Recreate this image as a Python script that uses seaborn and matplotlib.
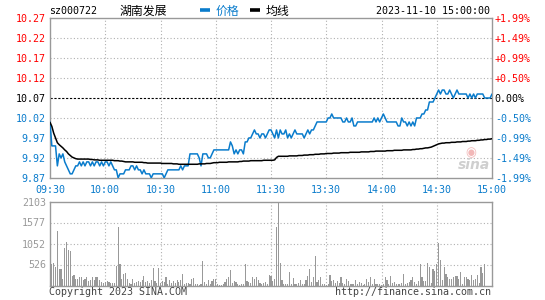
import numpy as np
import matplotlib
matplotlib.use("Agg")
import matplotlib.pyplot as plt
import seaborn as sns
from matplotlib.lines import Line2D

# ---------------- data ----------------
symbol = "sz000722"
name = "湖南发展"
timestamp = "2023-11-10 15:00:00"
legend_price = "价格"
legend_avg = "均线"
footer_left = "Copyright 2023 SINA.COM"
footer_right = "http://finance.sina.com.cn"
prev_close = 10.07
time_labels = ["09:30", "10:00", "10:30", "11:00", "11:30", "13:30", "14:00", "14:30", "15:00"]
price_labels = ["10.27", "10.22", "10.17", "10.12", "10.07", "10.02", "9.97", "9.92", "9.87"]
pct_labels = ["+1.99%", "+1.49%", "+0.99%", "+0.50%", "0.00%", "-0.50%", "-0.99%", "-1.49%", "-1.99%"]
vol_labels = ["2103", "1577", "1052", "526"]
vol_max = 2103

price = [
    10.01, 9.95, 9.95, 9.95, 9.90, 9.93, 9.92, 9.93, 9.91, 9.90,
    9.89, 9.88, 9.88, 9.89, 9.90, 9.90, 9.91, 9.90, 9.91, 9.90,
    9.91, 9.91, 9.90, 9.91, 9.90, 9.91, 9.91, 9.90, 9.91, 9.90,
    9.91, 9.91, 9.90, 9.91, 9.90, 9.89, 9.89, 9.87, 9.88, 9.88,
    9.88, 9.89, 9.89, 9.89, 9.90, 9.90, 9.89, 9.90, 9.89, 9.89,
    9.88, 9.89, 9.88, 9.88, 9.88, 9.87, 9.88, 9.88, 9.88, 9.88,
    9.88, 9.88, 9.87, 9.88, 9.89, 9.89, 9.89, 9.89, 9.89, 9.89,
    9.89, 9.90, 9.89, 9.90, 9.90, 9.90, 9.93, 9.93, 9.93, 9.93,
    9.93, 9.92, 9.90, 9.93, 9.93, 9.93, 9.92, 9.92, 9.93, 9.94,
    9.94, 9.94, 9.94, 9.94, 9.94, 9.94, 9.94, 9.94, 9.96, 9.95,
    9.93, 9.94, 9.93, 9.94, 9.94, 9.93, 9.96, 9.96, 9.97, 9.97,
    9.98, 9.99, 9.98, 9.98, 9.97, 9.98, 9.98, 9.97, 9.98, 9.99,
    9.99, 9.98, 9.97, 9.99, 9.97, 9.99, 9.98, 9.98, 9.99, 9.97,
    9.98, 9.97, 9.98, 9.99, 9.98, 9.98, 9.98, 9.98, 9.97, 9.98,
    9.99, 9.98, 9.99, 9.99, 10.00, 10.01, 10.01, 10.01, 10.01, 10.01,
    10.01, 10.02, 10.02, 10.03, 10.02, 10.02, 10.02, 10.02, 10.02, 10.01,
    10.01, 10.02, 10.01, 10.01, 10.02, 10.00, 10.00, 10.01, 10.01, 10.01,
    10.01, 10.01, 10.01, 10.01, 10.01, 10.01, 10.02, 10.01, 10.02, 10.01,
    10.02, 10.03, 10.02, 10.01, 10.01, 10.01, 10.01, 10.01, 10.01, 10.00,
    10.00, 10.02, 10.01, 10.01, 10.00, 10.01, 10.00, 10.01, 10.00, 10.02,
    10.02, 10.02, 10.03, 10.03, 10.04, 10.04, 10.06, 10.06, 10.06, 10.07,
    10.08, 10.09, 10.08, 10.09, 10.09, 10.08, 10.08, 10.09, 10.08, 10.07,
    10.08, 10.09, 10.08, 10.08, 10.08, 10.08, 10.08, 10.07, 10.08, 10.07,
    10.08, 10.07, 10.08, 10.08, 10.08, 10.08, 10.07, 10.07, 10.07, 10.07,
    10.08,
]

avg_price = [
    10.009, 9.999, 9.982, 9.970, 9.958, 9.953, 9.949, 9.945, 9.940, 9.936,
    9.930, 9.926, 9.922, 9.920, 9.918, 9.917, 9.917, 9.917, 9.917, 9.917,
    9.917, 9.917, 9.916, 9.916, 9.915, 9.915, 9.915, 9.914, 9.914, 9.914,
    9.914, 9.914, 9.914, 9.914, 9.914, 9.913, 9.913, 9.913, 9.912, 9.912,
    9.911, 9.910, 9.910, 9.910, 9.910, 9.910, 9.909, 9.909, 9.909, 9.909,
    9.909, 9.908, 9.908, 9.907, 9.907, 9.907, 9.907, 9.907, 9.907, 9.907,
    9.907, 9.906, 9.906, 9.906, 9.906, 9.906, 9.906, 9.905, 9.905, 9.905,
    9.904, 9.904, 9.904, 9.904, 9.904, 9.904, 9.904, 9.904, 9.904, 9.904,
    9.904, 9.905, 9.905, 9.905, 9.905, 9.906, 9.906, 9.906, 9.907, 9.908,
    9.908, 9.908, 9.909, 9.909, 9.909, 9.909, 9.909, 9.910, 9.910, 9.910,
    9.910, 9.910, 9.910, 9.911, 9.911, 9.912, 9.912, 9.912, 9.912, 9.913,
    9.913, 9.913, 9.913, 9.913, 9.913, 9.913, 9.914, 9.914, 9.914, 9.914,
    9.914, 9.914, 9.915, 9.921, 9.924, 9.924, 9.924, 9.924, 9.924, 9.924,
    9.925, 9.925, 9.925, 9.925, 9.925, 9.926, 9.926, 9.926, 9.927, 9.927,
    9.927, 9.928, 9.928, 9.928, 9.929, 9.929, 9.929, 9.930, 9.930, 9.930,
    9.931, 9.931, 9.931, 9.931, 9.932, 9.932, 9.932, 9.932, 9.933, 9.933,
    9.933, 9.933, 9.933, 9.934, 9.934, 9.934, 9.934, 9.934, 9.934, 9.935,
    9.935, 9.935, 9.935, 9.935, 9.936, 9.936, 9.936, 9.937, 9.937, 9.937,
    9.937, 9.937, 9.937, 9.938, 9.938, 9.938, 9.938, 9.939, 9.939, 9.939,
    9.939, 9.939, 9.940, 9.940, 9.940, 9.940, 9.940, 9.941, 9.941, 9.942,
    9.942, 9.943, 9.943, 9.944, 9.945, 9.945, 9.946, 9.947, 9.949, 9.951,
    9.953, 9.955, 9.956, 9.957, 9.957, 9.958, 9.958, 9.958, 9.959, 9.959,
    9.959, 9.960, 9.960, 9.960, 9.961, 9.961, 9.961, 9.962, 9.962, 9.963,
    9.963, 9.963, 9.964, 9.964, 9.965, 9.965, 9.966, 9.966, 9.967, 9.967,
    9.968,
]

volume = [
    639, 538, 555, 455, 1373, 405, 405, 163, 931, 1098,
    889, 873, 238, 263, 155, 171, 205, 205, 138, 171,
    205, 121, 138, 221, 138, 221, 221, 138, 96, 54,
    96, 121, 80, 60, 54, 60, 488, 1457, 538, 171,
    288, 305, 171, 54, 38, 171, 54, 88, 104, 88,
    138, 238, 96, 121, 54, 138, 438, 121, 54, 438,
    71, 121, 88, 205, 38, 138, 54, 121, 71, 138,
    88, 138, 288, 38, 54, 71, 38, 171, 188, 38,
    38, 21, 38, 614, 96, 38, 138, 38, 121, 171,
    155, 38, 21, 21, 38, 96, 171, 221, 388, 54,
    104, 88, 38, 21, 38, 38, 538, 121, 88, 71,
    221, 171, 221, 138, 54, 38, 54, 96, 38, 263,
    238, 113, 155, 1474, 2103, 572, 138, 38, 38, 38,
    338, 38, 188, 38, 38, 54, 138, 38, 38, 138,
    238, 421, 96, 221, 739, 96, 138, 205, 38, 38,
    21, 38, 263, 121, 138, 71, 121, 54, 221, 54,
    38, 155, 121, 38, 38, 38, 138, 38, 96, 54,
    21, 38, 171, 88, 221, 38, 171, 38, 38, 38,
    21, 38, 221, 138, 38, 238, 54, 96, 38, 38,
    38, 54, 280, 38, 54, 88, 138, 205, 88, 38,
    121, 538, 221, 121, 121, 572, 455, 54, 405, 372,
    530, 1056, 639, 138, 455, 288, 221, 171, 155, 221,
    238, 238, 171, 347, 38, 221, 221, 171, 138, 255,
    138, 171, 255, 71, 455, 305, 538, 0, 0, 0,
    0,
]

# ---------------- style ----------------
BLUE = "#0a7ccc"
RED = "#ff0000"
GRAY = "#999999"
GRID = "#b0b0b0"
MONO = ["DejaVu Sans Mono"]
CJK = ["Noto Sans CJK SC", "DejaVu Sans"]
FS = 7.2

sns.set_style("white")
plt.rcParams["font.family"] = ["DejaVu Sans Mono", "Noto Sans CJK SC"]

W, H = 545, 300
fig = plt.figure(figsize=(W / 100, H / 100), dpi=100)
fig.patch.set_facecolor("white")

def fx(x):
    return x / W

def fy(y):
    return 1 - y / H

ax = fig.add_axes([fx(50), fy(178), (492 - 50) / W, 160 / H])
axv = fig.add_axes([fx(50), fy(285.5), (492 - 50) / W, 84 / H])

minutes = np.arange(len(price))
n_last = len(price) - 1
lo = prev_close * (1 - 0.0199)
hi = prev_close * (1 + 0.0199)
yt = np.linspace(lo, hi, len(price_labels))
xt = np.linspace(0, n_last, len(time_labels))

dot = (0, (1, 2))
# grids price
for k, yv in enumerate(yt):
    if k == len(yt) // 2:
        ax.axhline(yv, color="black", lw=0.8, ls=(0, (2, 1.5)), zorder=1)
    elif 0 < k < len(yt) - 1:
        ax.axhline(yv, color=GRID, lw=0.8, ls=dot, zorder=1)
for xv in xt[1:-1]:
    ax.axvline(xv, color=GRID, lw=0.8, ls=dot, zorder=1)

sns.lineplot(x=minutes, y=price, ax=ax, color=BLUE, lw=1.1, legend=False, zorder=3)
sns.lineplot(x=minutes, y=avg_price, ax=ax, color="black", lw=1.1, legend=False, zorder=4)

ax.set_xlim(0, n_last)
ax.set_ylim(lo, hi)
ax.set_xlabel("")
ax.set_ylabel("")
ax.set_yticks(yt)
ax.set_yticklabels(price_labels[::-1])
ax.set_xticks(xt)
ax.set_xticklabels(time_labels)
ax.tick_params(axis="both", length=0, labelsize=FS)
ax.tick_params(axis="y", pad=3)
ax.tick_params(axis="x", pad=5, colors=BLUE)

def level_colors(n):
    mid = n // 2
    return [RED if k < mid else ("black" if k == mid else BLUE) for k in range(n)]

cols = level_colors(len(price_labels))[::-1]
for lbl, c in zip(ax.get_yticklabels(), cols):
    lbl.set_color(c)
    lbl.set_family(MONO)
for lbl in ax.get_xticklabels():
    lbl.set_color(BLUE)
    lbl.set_family(MONO)

ax2 = ax.twinx()
ax2.set_ylim(lo, hi)
ax2.set_yticks(yt)
ax2.set_yticklabels(pct_labels[::-1])
ax2.tick_params(axis="y", length=0, labelsize=FS, pad=2)
for lbl, c in zip(ax2.get_yticklabels(), cols):
    lbl.set_color(c)
    lbl.set_family(MONO)
for s in ax2.spines.values():
    s.set_visible(False)

for s in ax.spines.values():
    s.set_color(GRAY)
    s.set_linewidth(1.0)
    s.set_visible(True)

# ---------------- volume ----------------
vt = np.linspace(0, vol_max, len(vol_labels) + 1)
for yv in vt[1:-1]:
    axv.axhline(yv, color=GRID, lw=0.8, ls=dot, zorder=1)
for xv in xt[1:-1]:
    axv.axvline(xv, color=GRID, lw=0.8, ls=dot, zorder=1)

sns.barplot(x=minutes, y=volume, ax=axv, native_scale=True, color=GRAY,
            saturation=1, width=0.62, errorbar=None, linewidth=0, zorder=3)
for p in axv.patches:
    p.set_antialiased(False)
axv.set_xlim(0, n_last)
axv.set_ylim(0, vol_max)
axv.set_xlabel("")
axv.set_ylabel("")
axv.set_xticks([])
axv.set_yticks(vt[1:])
axv.set_yticklabels(vol_labels[::-1])
axv.tick_params(axis="y", length=0, labelsize=FS, pad=3, colors=GRAY)
for lbl in axv.get_yticklabels():
    lbl.set_family(MONO)
for s in axv.spines.values():
    s.set_color(GRAY)
    s.set_linewidth(1.0)
    s.set_visible(True)

# ---------------- header / footer ----------------
fig.text(fx(49), fy(11), symbol, fontsize=FS, family=MONO, color="black", va="center", ha="left")
fig.text(fx(120), fy(11), name, fontsize=8.6, family=CJK, color="black", va="center", ha="left")
fig.add_artist(Line2D([fx(200), fx(210)], [fy(10), fy(10)], color=BLUE, lw=2.6, solid_capstyle="butt"))
fig.text(fx(216), fy(11), legend_price, fontsize=8.6, family=CJK, color=BLUE, va="center", ha="left")
fig.add_artist(Line2D([fx(250), fx(260)], [fy(10), fy(10)], color="black", lw=2.6, solid_capstyle="butt"))
fig.text(fx(266), fy(11), legend_avg, fontsize=8.6, family=CJK, color="black", va="center", ha="left")
fig.text(fx(490), fy(11), timestamp, fontsize=FS, family=MONO, color="black", va="center", ha="right")

fig.text(fx(49), fy(292), footer_left, fontsize=FS, family=MONO, color="#444444", va="center", ha="left")
fig.text(fx(491), fy(292), footer_right, fontsize=FS, family=MONO, color="#444444", va="center", ha="right")

# watermark
fig.text(fx(471), fy(153), "◉", fontsize=9, family=["DejaVu Sans"], color="#f2b8b8", va="center", ha="center")
fig.text(fx(474), fy(165), "sina", fontsize=10, family=["DejaVu Sans"], style="italic",
         weight="bold", color="#cfcfcf", va="center", ha="center")

fig.savefig("out.png", dpi=100, facecolor="white")
